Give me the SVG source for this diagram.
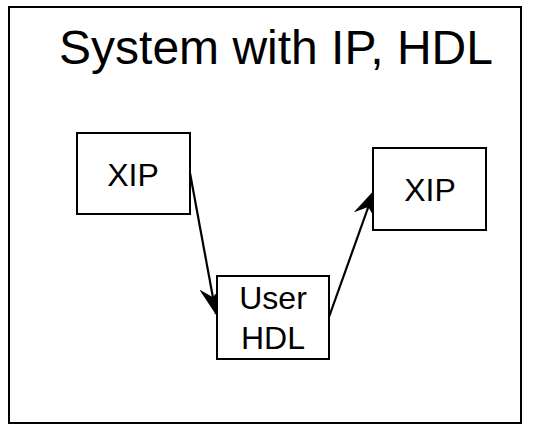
<svg xmlns="http://www.w3.org/2000/svg" width="545" height="425" viewBox="0 0 545 425">
  <style>
    .box { fill: #fff; stroke: #000; stroke-width: 2; }
    .lbl { font-family: "Liberation Sans", Arial, sans-serif; fill: #000; text-anchor: middle; }
    .edge { stroke: #000; stroke-width: 2.2; fill: none; marker-end: url(#head); }
  </style>
  <defs>
    <marker id="head" viewBox="0 0 28 24" refX="27" refY="12" markerWidth="28" markerHeight="24" markerUnits="userSpaceOnUse" orient="auto">
      <path d="M0,0 L28,12 L0,24 L10,12 Z" fill="#000"/>
    </marker>
  </defs>
  <rect width="545" height="425" fill="#fff"/>

  <g id="frame">
    <rect class="box" x="9" y="7" width="512" height="416"/>
    <text class="lbl" x="276" y="64" font-size="48">System with IP, HDL</text>
  </g>

  <g id="connectors">
    <line class="edge" x1="190" y1="173" x2="216" y2="314"/>
    <line class="edge" x1="329" y1="317" x2="374" y2="191"/>
  </g>

  <g id="xip-left">
    <rect class="box" x="77" y="133" width="113" height="81"/>
    <text class="lbl" x="133" y="186" font-size="32">XIP</text>
  </g>

  <g id="user-hdl">
    <rect class="box" x="217" y="276" width="112" height="83"/>
    <text class="lbl" x="273" y="309" font-size="32">User</text>
    <text class="lbl" x="273" y="349" font-size="32">HDL</text>
  </g>

  <g id="xip-right">
    <rect class="box" x="373" y="148" width="113" height="82"/>
    <text class="lbl" x="430" y="201" font-size="32">XIP</text>
  </g>
</svg>
